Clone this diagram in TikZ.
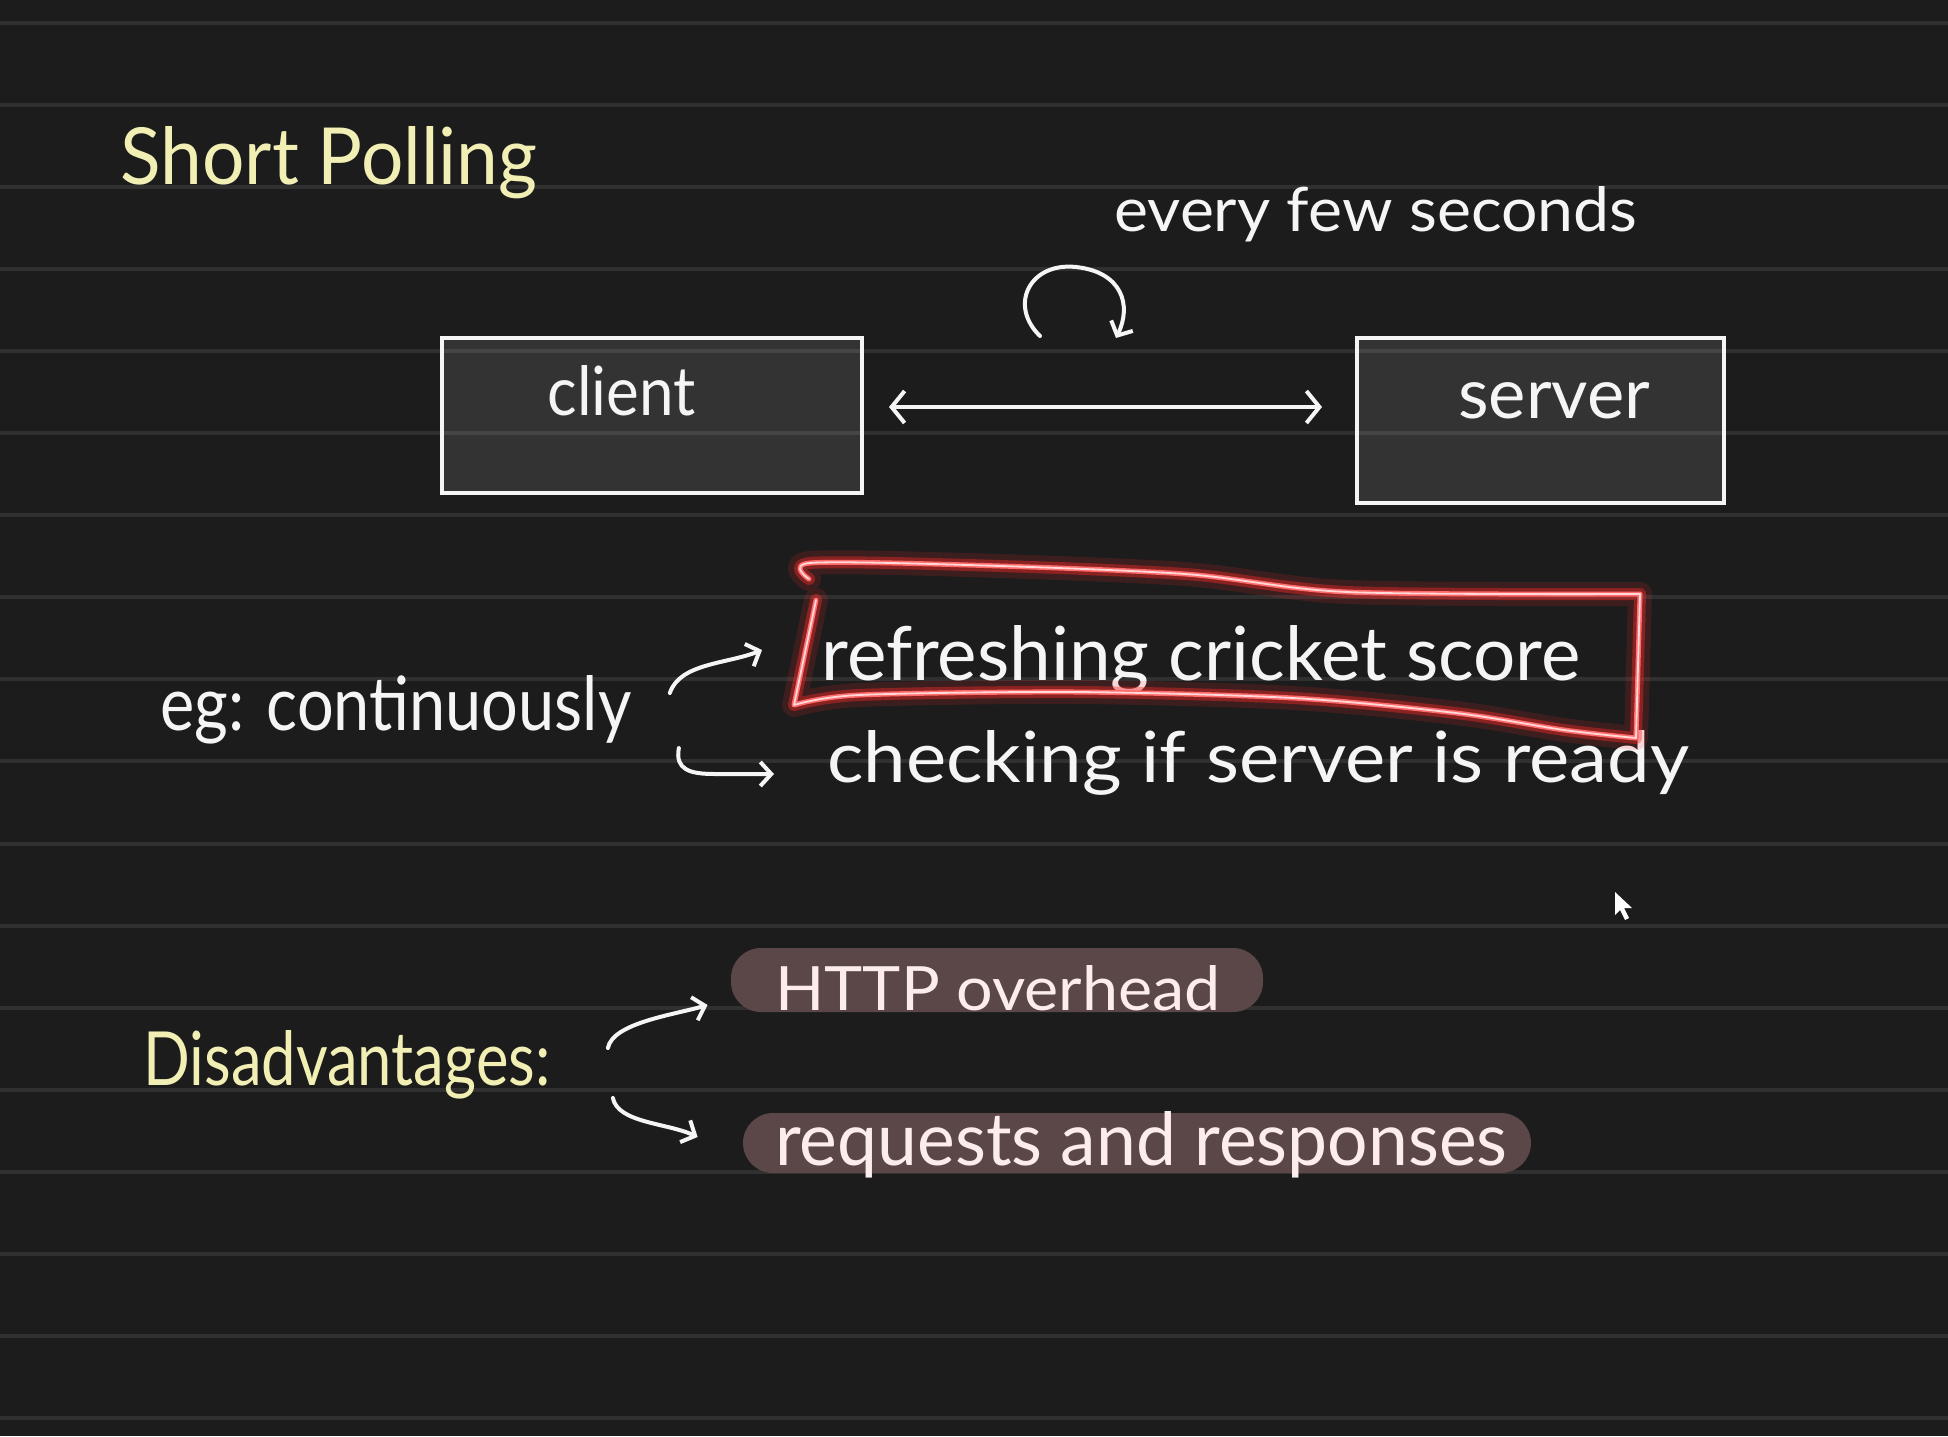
\documentclass[tikz,border=0pt]{standalone}
\usepackage{fontspec}
\setmainfont{Lato}
\usepackage{graphicx}
\usetikzlibrary{arrows.meta}
\definecolor{bg}{HTML}{1C1C1C}
\definecolor{rulec}{HTML}{303030}
\definecolor{ink}{HTML}{F5F5F5}
\definecolor{yel}{HTML}{F2EFB4}
\definecolor{pillc}{HTML}{5C4748}
\definecolor{pinkink}{HTML}{FCECEC}
\definecolor{glowc}{HTML}{FF2A2A}
\definecolor{glowcore}{HTML}{FF6A6A}
\newcommand{\hw}[3]{\resizebox{#1}{#2}{#3}}
\tikzset{
  txt/.style={anchor=base west, inner sep=0pt, text=ink},
  ytxt/.style={txt, text=yel},
  pilltxt/.style={txt, text=pinkink},
  boxnode/.style={draw=ink, line width=2pt, fill=white, fill opacity=0.1, inner sep=0pt},
  pillnode/.style={fill=pillc, rounded corners=15pt, inner sep=0pt},
  arr/.style={draw=ink, line width=2pt, line cap=round, -{Straight Barb[length=5.5pt,width=12pt,line width=2pt]}},
  dblarr/.style={draw=ink, line width=2pt, line cap=round, {Straight Barb[length=6.5pt,width=16pt,line width=2pt]}-{Straight Barb[length=6.5pt,width=16pt,line width=2pt]}}
}
\begin{document}
\begin{tikzpicture}[x=0.5pt,y=-0.5pt]
\fill[bg] (0,0) rectangle (1948,1436);
\useasboundingbox (0,0) rectangle (1948,1436);
\foreach \k in {0,...,17} \draw[rulec, line width=2pt] (0,{23+82.05*\k}) -- (1948,{23+82.05*\k});

% title
\node[ytxt] (title) at (120,184) {\hw{208.5pt}{29pt}{Short Polling}};
\node[txt] (every) at (1114,231) {\hw{261.5pt}{22.5pt}{every few seconds}};

% boxes
\node[boxnode, minimum width=210pt, minimum height=77.5pt] (client) at (652,415.5) {};
\node[txt] (clientlbl) at (547,415) {\hw{74pt}{25pt}{client}};
\node[boxnode, minimum width=183.5pt, minimum height=82.5pt] (server) at (1540.5,420.5) {};
\node[txt] (serverlbl) at (1458,418) {\hw{96pt}{18pt}{server}};

\draw[dblarr] ([shift={(25,-8.5)}]client.east) -- ([shift={(-33,-13.5)}]server.west);

% loop arrow
\draw[arr] (1040,336) .. controls (1008,305) and (1030,262) .. (1076,267)
  .. controls (1122,272) and (1132,305) .. (1116,338);

% examples
\node[txt] (eg) at (160,730) {\hw{235.5pt}{27.5pt}{eg: continuously}};
\node[txt] (ref) at (821,680) {\hw{379.5pt}{27.5pt}{refreshing cricket score}};
\node[txt] (chk) at (827,782) {\hw{431pt}{26pt}{checking if server is ready}};

\draw[arr] ([shift={(38,-37)}]eg.base east) .. controls +(10,-30) and +(-35,14) .. ([shift={(-59,-30)}]ref.base west);
\draw[arr] ([shift={(47,18)}]eg.base east) .. controls +(-4,22) and +(-25,0) .. ([shift={(-112,-8)}]chk.base west) -- ([shift={(-53,-8)}]chk.base west);

% red highlight
\foreach \lw/\col/\op in {12pt/glowc/0.15, 6pt/glowc/0.4, 2.5pt/glowcore/1, 0.9pt/white/0.75}{
  \draw[\col, line width=\lw, opacity=\op, line join=round, line cap=round]
    plot[smooth] coordinates {(809,579) (810,563) (968,565) (1185,574) (1347,592) (1640,594)}
    -- (1636,738)
    -- plot[smooth] coordinates {(1636,738) (1564,730) (1456,713) (1293,698) (1076,692) (859,695) (794,705)}
    -- (816,600);
}

% disadvantages
\node[ytxt] (dis) at (143,1085) {\hw{203.5pt}{27.5pt}{Disadvantages:}};
\node[pillnode, minimum width=266pt, minimum height=32pt] (pill1) at (997,980) {};
\node[pillnode, minimum width=394pt, minimum height=30pt] (pill2) at (1137,1143) {};
\node[pilltxt] (http) at (775,1010) {\hw{222.5pt}{22.5pt}{HTTP overhead}};
\node[pilltxt] (req) at (775,1165) {\hw{366pt}{27pt}{requests and responses}};

\draw[arr] ([shift={(57,-37)}]dis.base east) .. controls +(5,-25) and +(-35,10) .. ([shift={(-23,25)}]pill1.west);
\draw[arr] ([shift={(62,13)}]dis.base east) .. controls +(5,25) and +(-30,-14) .. ([shift={(-45,-6)}]pill2.west);

% mouse cursor
\fill[white] (1615,892) -- (1615,915) -- (1620,910) -- (1625,920) -- (1629,918) -- (1624,908) -- (1632,908) -- cycle;
\end{tikzpicture}
\end{document}
